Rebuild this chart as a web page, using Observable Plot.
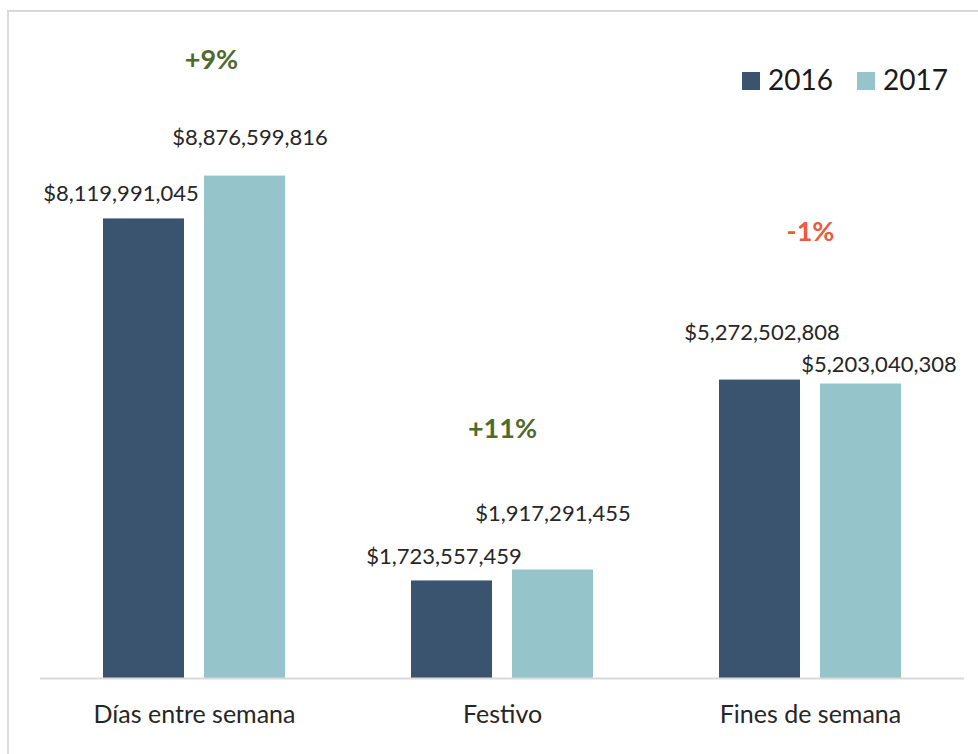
<!DOCTYPE html>
<html>
<head>
<meta charset="utf-8">
<script src="https://cdn.jsdelivr.net/npm/d3@7"></script>
<script src="https://cdn.jsdelivr.net/npm/@observablehq/plot@0.6"></script>
<style>
  html, body { margin: 0; padding: 0; background: #ffffff; }
  #wrap { position: relative; width: 978px; height: 754px; overflow: hidden; font-family: Lato, "Open Sans", sans-serif; }
  #frame { position: absolute; left: 7px; top: 10px; width: 1000px; height: 800px;
           border-left: 2px solid #d9d9d9; border-top: 2px solid #d9d9d9; box-sizing: border-box; }
  #chart { position: absolute; left: 0; top: 0; }
  #legend { position: absolute; left: 742px; top: 64px; display: flex; align-items: center;
            font-size: 28px; color: #1a1a1a; line-height: 30px; }
  #legend .item { display: flex; align-items: center; margin-right: 24px; }
  #legend .sw { width: 18px; height: 18px; margin-right: 8px; margin-top: 3px; }
</style>
</head>
<body>
<div id="wrap">
  <div id="frame"></div>
  <div id="chart"></div>
  <div id="legend"></div>
</div>
<script>
// ---- data ----
const categories = ["Días entre semana", "Festivo", "Fines de semana"];
const years = ["2016", "2017"];
const values2016 = [8119991045, 1723557459, 5272502808];
const values2017 = [8876599816, 1917291455, 5203040308];

// ---- style / layout ----
const colors = ["#3a5470", "#95c5cb"];
const upColor = "#4f6b2c";
const downColor = "#ee5a3b";
// pixel nudges for value labels (per category, per year) as placed in the original
const labelNudge2016 = [[-23, -25], [-8, -24], [2, -47]];
const labelNudge2017 = [[5, -38], [0, -56], [18, -19]];
// pixel nudges for change labels (per category)
const pctNudge = [[17, -116], [0, -141], [0, -148]];

const loc = d3.formatLocale({decimal: ".", thousands: ",", grouping: [3], currency: ["$", ""], minus: "-"});
const fmtMoney = loc.format("$,");
const fmtPct = loc.format("+.0%");

const rows = [];
categories.forEach((c, i) => {
  rows.push({cat: c, year: years[0], value: values2016[i], nudge: labelNudge2016[i]});
  rows.push({cat: c, year: years[1], value: values2017[i], nudge: labelNudge2017[i]});
});
const changes = categories.map((c, i) => ({
  cat: c,
  top: Math.max(values2016[i], values2017[i]),
  change: values2017[i] / values2016[i] - 1,
  nudge: pctNudge[i]
}));

const marks = [
  Plot.barY(rows, {fx: "cat", x: "year", y: "value", fill: "year"}),
  Plot.ruleY([0], {stroke: "#d9d9d9", strokeWidth: 2}),
  Plot.axisFx({anchor: "bottom", tickSize: 0, tickPadding: 27, fontSize: 25, fill: "#262626", label: null}),
];
rows.forEach(r => {
  marks.push(Plot.text([r], {
    fx: "cat", x: "year", y: "value", text: d => fmtMoney(d.value),
    dx: r.nudge[0], dy: r.nudge[1], fontSize: 22, fill: "#262626"
  }));
});
changes.forEach(c => {
  marks.push(Plot.text([c], {
    fx: "cat", y: "top", text: d => fmtPct(d.change),
    dx: c.nudge[0], dy: c.nudge[1], fontSize: 27, fontWeight: "bold",
    fill: c.change >= 0 ? upColor : downColor
  }));
});

const chart = Plot.plot({
  width: 978,
  height: 754,
  marginLeft: 40,
  marginRight: 14,
  marginTop: 112,
  marginBottom: 76,
  style: {fontFamily: "Lato, 'Open Sans', sans-serif", background: "transparent", overflow: "visible"},
  fx: {domain: categories, padding: 0, label: null},
  x: {domain: years, paddingInner: 0.196, paddingOuter: 0.608, axis: null},
  y: {domain: [0, 10e9], axis: null},
  color: {domain: years, range: colors},
  marks
});
document.getElementById("chart").appendChild(chart);

const legend = document.getElementById("legend");
years.forEach((y, i) => {
  const item = document.createElement("div");
  item.className = "item";
  const sw = document.createElement("div");
  sw.className = "sw";
  sw.style.background = colors[i];
  const t = document.createElement("span");
  t.textContent = y;
  item.appendChild(sw);
  item.appendChild(t);
  legend.appendChild(item);
});
</script>
</body>
</html>
